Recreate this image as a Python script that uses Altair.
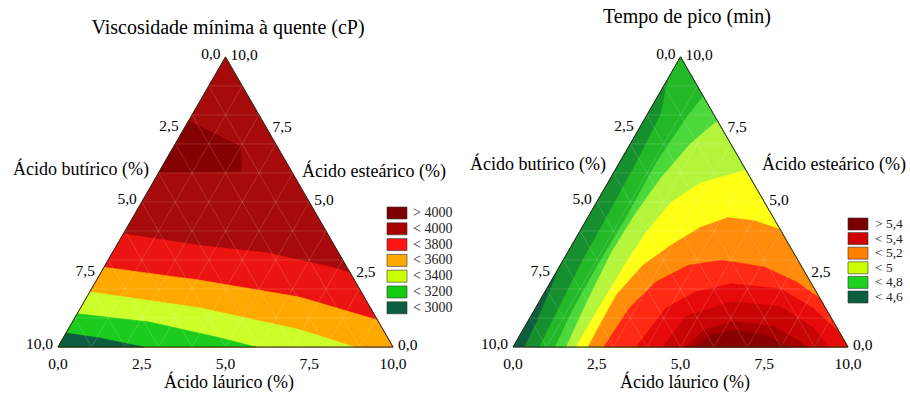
import math
import altair as alt
import pandas as pd

FONT = "Liberation Serif"

# ---------------- data ----------------
tick_values = [0.0, 2.5, 5.0, 7.5, 10.0]
tick_labels = ["0,0", "2,5", "5,0", "7,5", "10,0"]

# Viscosidade mínima à quente: regions as (láurico, esteárico) points, painted in order
visc_colors = ["#a60a0a", "#850000", "#ec1410", "#ffa800", "#ccff2a", "#1ccc1c", "#0b5e40"]
visc_all = [(0, 0), (10, 0), (0, 10)]
visc_gt4000 = [(0, 7.8), (2.0, 6.9), (2.45, 6.05), (0, 6.0)]
visc_lt3800 = [(0, 3.9), (2.5, 3.5), (4.6, 3.25), (6.8, 2.75), (7.45, 2.55), (10, 0), (0, 0)]
visc_lt3600 = [(0, 2.75), (3.1, 2.3), (6.35, 1.72), (9.07, 0.93), (10, 0), (0, 0)]
visc_lt3400 = [(0, 1.9), (3.55, 1.35), (6.9, 0.6), (8.85, 0), (0, 0)]
visc_lt3200 = [(0, 1.15), (2.3, 0.86), (4.7, 0.31), (5.9, 0), (0, 0)]
visc_lt3000 = [(0, 0.48), (1.1, 0.31), (2.55, 0), (0, 0)]
visc_regions = [visc_all, visc_gt4000, visc_lt3800, visc_lt3600, visc_lt3400, visc_lt3200, visc_lt3000]

visc_legend_labels = ["> 4000", "< 4000", "< 3800", "< 3600", "< 3400", "< 3200", "< 3000"]
visc_legend_colors = ["#7d0000", "#a80000", "#ff1414", "#ffaa00", "#ccff00", "#11cc11", "#0b5e40"]

# Tempo de pico: regions as (láurico, esteárico) points, painted in order (value above level)
tempo_colors = ["#0c5e3f", "#168f2f", "#22b826", "#4bd83a", "#b4f53c", "#ffff14",
                "#ff8c0a", "#ff2a14", "#e60a0a", "#c80404", "#a80000", "#880000"]
tempo_all = [(0, 0), (10, 0), (0, 10)]
tempo_gt46 = [(0.35, 0), (0.29, 0.7), (0.19, 1.5), (0.09, 2.25), (0, 2.75), (0, 10), (10, 0)]
tempo_gt47 = [(0.79, 0), (0.71, 1.22), (0.59, 2.93), (0.56, 4.46), (0.51, 6.33), (0.40, 8.03), (0, 9.3), (0, 10), (10, 0)]
tempo_gt48 = [(1.26, 0), (1.15, 1.22), (1.12, 2.76), (1.15, 4.46), (1.1, 6.33), (1.22, 7.86), (1.36, 8.64), (10, 0)]
tempo_gt49 = [(1.59, 0), (1.43, 1.56), (1.31, 3.27), (1.36, 4.63), (1.5, 5.82), (1.79, 7.0), (2.2, 7.79), (10, 0)]
tempo_gt50 = [(1.88, 0), (1.88, 0.95), (1.9, 1.9), (1.92, 2.93), (2.0, 3.95), (2.22, 4.97), (2.76, 5.65), (3.9, 6.09), (10, 0)]
tempo_gt51 = [(2.24, 0), (2.21, 0.88), (2.19, 1.8), (2.47, 2.82), (2.99, 3.54), (3.53, 4.12), (4.18, 4.46), (5.03, 4.35), (5.95, 4.05), (10, 0)]
tempo_gt52 = [(2.71, 0), (2.8, 1.33), (3.14, 2.24), (3.83, 2.82), (4.74, 2.99), (6.12, 2.76), (7.35, 2.24), (8.33, 1.67), (10, 0)]
tempo_gt53 = [(3.68, 0), (3.89, 1.33), (4.49, 1.9), (5.44, 2.18), (7.0, 2.0), (8.3, 1.33), (9.44, 0.54), (10, 0)]
tempo_gt54 = [(4.47, 0), (4.62, 1.05), (5.75, 1.56), (7.3, 1.39), (8.65, 0.65), (9.41, 0)]
tempo_gt55 = [(5.15, 0), (5.43, 0.61), (6.18, 0.88), (7.44, 0.71), (8.82, 0)]
tempo_gt56 = [(5.44, 0), (5.68, 0.41), (6.33, 0.58), (7.3, 0.41), (8.24, 0)]
tempo_regions = [tempo_all, tempo_gt46, tempo_gt47, tempo_gt48, tempo_gt49, tempo_gt50,
                 tempo_gt51, tempo_gt52, tempo_gt53, tempo_gt54, tempo_gt55, tempo_gt56]

tempo_legend_labels = ["> 5,4", "< 5,4", "< 5,2", "< 5", "< 4,8", "< 4,6"]
tempo_legend_colors = ["#7a0000", "#d00000", "#ff8000", "#ccff00", "#1fd21f", "#0a5f3c"]

# ---------------- helpers ----------------
H = math.sqrt(3) / 2


def tern(L, S):
    return [L + S / 2.0, S * H]


def region_features(regions, colors):
    feats = []
    for pts, col in zip(regions, colors):
        ring = [tern(L, S) for L, S in pts]
        ring.append(ring[0])
        feats.append({"type": "Feature", "geometry": {"type": "Polygon", "coordinates": [ring]},
                      "properties": {"color": col}})
    return feats


def grid_feature():
    lines = []
    for k in range(1, 10):
        lines.append([tern(0, k), tern(10 - k, k)])          # constant esteárico
        lines.append([tern(k, 0), tern(k, 10 - k)])          # constant láurico
        lines.append([tern(10 - k, 0), tern(0, 10 - k)])     # constant butírico
    return [{"type": "Feature", "geometry": {"type": "MultiLineString", "coordinates": lines},
             "properties": {}}]


def outline_feature():
    ring = [tern(0, 0), tern(10, 0), tern(0, 10), tern(0, 0)]
    return [{"type": "Feature", "geometry": {"type": "Polygon", "coordinates": [ring]}, "properties": {}}]


def text_at(txt, x, y, size):
    return alt.Chart(pd.DataFrame({"t": [txt]})).mark_text(
        font=FONT, fontSize=size, color="black", baseline="middle", clip=False
    ).encode(text="t:N", x=alt.value(x), y=alt.value(y))


def triangle_panel(regions, colors, proj, width, title, title_xy, butir_xy, estear_xy, laur_xy):
    p = dict(type="identity", reflectY=True, scale=proj[0], translate=[proj[1], proj[2]])
    fill = alt.Chart(alt.Data(values=region_features(regions, colors))).mark_geoshape(
        strokeWidth=0.6, opacity=1, clip=False
    ).encode(
        fill=alt.Fill("properties.color:N", scale=None),
        stroke=alt.Stroke("properties.color:N", scale=None),
    ).project(**p)
    grid = alt.Chart(alt.Data(values=grid_feature())).mark_geoshape(
        filled=False, stroke="white", strokeWidth=0.7, strokeOpacity=0.22, clip=False
    ).project(**p)
    outline = alt.Chart(alt.Data(values=outline_feature())).mark_geoshape(
        filled=False, stroke="#2b2b1f", strokeWidth=1, clip=False
    ).project(**p)

    ticks = pd.DataFrame({"t": tick_values, "label": tick_labels})
    tick_style = dict(font=FONT, fontSize=15.5, color="black", baseline="middle", clip=False)
    bottom = alt.Chart(ticks).transform_calculate(
        lon="datum.t", lat="0"
    ).mark_text(dy=17, **tick_style).encode(
        longitude="lon:Q", latitude="lat:Q", text="label:N").project(**p)
    left = alt.Chart(ticks).transform_calculate(
        lon="(10 - datum.t) / 2", lat="(10 - datum.t) * sqrt(3) / 2"
    ).mark_text(align="right", dx=-5, dy=-3, **tick_style).encode(
        longitude="lon:Q", latitude="lat:Q", text="label:N").project(**p)
    right = alt.Chart(ticks).transform_calculate(
        lon="10 - datum.t / 2", lat="datum.t * sqrt(3) / 2"
    ).mark_text(align="left", dx=5, dy=-2, **tick_style).encode(
        longitude="lon:Q", latitude="lat:Q", text="label:N").project(**p)

    layers = [fill, grid, outline, bottom, left, right,
              text_at(title, title_xy[0], title_xy[1], 20),
              text_at("Ácido butírico (%)", butir_xy[0], butir_xy[1], 18),
              text_at("Ácido esteárico (%)", estear_xy[0], estear_xy[1], 18),
              text_at("Ácido láurico (%)", laur_xy[0], laur_xy[1], 18)]
    return alt.layer(*layers).properties(width=width, height=394)


def legend_panel(labels, colors, width, rng, pad, sw_x, txt_x, size):
    df = pd.DataFrame({"row": list(range(len(labels))), "label": labels, "color": colors})
    yenc = alt.Y("row:O", axis=None, scale=alt.Scale(range=rng, paddingInner=pad, paddingOuter=0))
    sw = alt.Chart(df).mark_rect(stroke="#333333", strokeWidth=0.6).encode(
        x=alt.value(sw_x), x2=alt.value(sw_x + 20), y=yenc,
        color=alt.Color("color:N", scale=None))
    tx = alt.Chart(df).mark_text(align="left", baseline="middle", font=FONT, fontSize=size,
                                 color="#222222").encode(
        x=alt.value(txt_x), y=yenc, text="label:N")
    return alt.layer(sw, tx).properties(width=width, height=394)


left_panel = triangle_panel(visc_regions, visc_colors, (33.5, 58, 347), 385,
                            "Viscosidade mínima à quente (cP)", (228, 28), (81, 170), (374, 172), (229, 383))
left_legend = legend_panel(visc_legend_labels, visc_legend_colors, 70, [207, 313.8], 0.24, 2, 28, 14)
right_panel = triangle_panel(tempo_regions, tempo_colors, (34, 60, 346), 390,
                             "Tempo de pico (min)", (232, 17), (83, 165), (379, 165), (230, 383))
right_legend = legend_panel(tempo_legend_labels, tempo_legend_colors, 65, [218, 303], 0.18, 3, 30, 13.5)

chart = alt.hconcat(left_panel, left_legend, right_panel, right_legend, spacing=0, bounds="flush").properties(
    padding=0, background="white",
    autosize=alt.AutoSizeParams(type="pad", contains="padding"),
).configure_view(strokeWidth=0)

chart.save("out.html", embed_options={"renderer": "svg", "actions": False})
